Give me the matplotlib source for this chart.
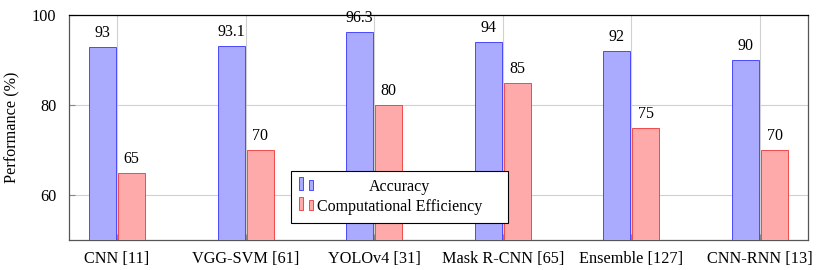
import numpy as np
import matplotlib.pyplot as plt
from matplotlib.patches import Rectangle

plt.rcParams['font.family'] = ['Liberation Serif', 'DejaVu Serif']

methods = ['CNN [11]', 'VGG-SVM [61]', 'YOLOv4 [31]', 'Mask R-CNN [65]', 'Ensemble [127]', 'CNN-RNN [13]']
accuracy = [93, 93.1, 96.3, 94, 92, 90]
efficiency = [65, 70, 80, 85, 75, 70]

blue_fill = '#aaaaff'
blue_edge = '#3333ff'
red_fill = '#ffaaaa'
red_edge = '#ee3333'


class TwoBars:
    # pgfplots style legend image: two thin bars
    def legend_artist(self, legend, orig_handle, fontsize, handlebox):
        x0, y0 = handlebox.xdescent, handlebox.ydescent
        w, h = handlebox.width, handlebox.height
        bw = 3.0
        fc, ec = orig_handle.get_facecolor(), orig_handle.get_edgecolor()
        r1 = Rectangle((x0, y0), bw, h, fc=fc, ec=ec, lw=0.6, transform=handlebox.get_transform())
        r2 = Rectangle((x0 + w - bw, y0), bw, h * 0.75, fc=fc, ec=ec, lw=0.6, transform=handlebox.get_transform())
        handlebox.add_artist(r1)
        handlebox.add_artist(r2)
        return r1


fig = plt.figure(figsize=(8.39, 2.70), dpi=100)
ax = fig.add_axes([69 / 839, 30 / 270, (808 - 69) / 839, (240 - 15) / 270])

x = np.arange(len(methods))
w = 0.21
gap = 0.008
ax.bar(x - gap, accuracy, width=-w, align='edge', color=blue_fill, edgecolor=blue_edge, linewidth=0.6, zorder=3)
ax.bar(x + gap, efficiency, width=w, align='edge', color=red_fill, edgecolor=red_edge, linewidth=0.6, zorder=3)

for i in range(len(methods)):
    ax.annotate('%g' % accuracy[i], (x[i] - gap - w / 2, accuracy[i]), xytext=(0, 4),
                textcoords='offset points', ha='center', va='bottom', fontsize=11.5)
    ax.annotate('%g' % efficiency[i], (x[i] + gap + w / 2, efficiency[i]), xytext=(0, 4),
                textcoords='offset points', ha='center', va='bottom', fontsize=11.5)

ax.set_xlim(-0.373, len(methods) - 1 + 0.373)
ax.set_ylim(50, 100)
ax.set_yticks([60, 80, 100])
ax.set_xticks(x)
ax.set_xticklabels(methods, fontsize=11.7)
ax.tick_params(axis='y', labelsize=11.7, direction='in', length=4, color='#888888', pad=9)
ax.tick_params(axis='x', direction='in', length=4, color='#888888', pad=8)
ax.grid(True, color='#d0d0d0', linewidth=0.8, zorder=0)
ax.set_axisbelow(True)
ax.set_ylabel('Performance (%)', fontsize=11.7, labelpad=8)
for s in ax.spines.values():
    s.set_color('#555555')
    s.set_linewidth(0.9)
ax.spines['top'].set_color('black')

h1 = Rectangle((0, 0), 1, 1, fc=blue_fill, ec=blue_edge)
h2 = Rectangle((0, 0), 1, 1, fc=red_fill, ec=red_edge)
lx0 = (291 - 69) / 739
lx1 = (508 - 69) / 739
leg = ax.legend([h1, h2], ['Accuracy', 'Computational Efficiency'],
                handler_map={Rectangle: TwoBars()},
                handlelength=0.9, handleheight=0.9, handletextpad=0.2,
                fontsize=11.5, fancybox=False, edgecolor='black', framealpha=1,
                loc='lower left', mode='expand',
                bbox_to_anchor=(lx0, (240 - 223) / 225, lx1 - lx0, 0.2),
                borderpad=0.5, labelspacing=0.22, borderaxespad=0)
leg.get_frame().set_linewidth(0.8)
leg.set_zorder(5)

# centre the shorter label over the longer one
fig.canvas.draw()
t0, t1 = leg.get_texts()
dx = (t1.get_window_extent().width - t0.get_window_extent().width) / 2
t0.set_x(dx)

fig.savefig('out.png', dpi=100)
